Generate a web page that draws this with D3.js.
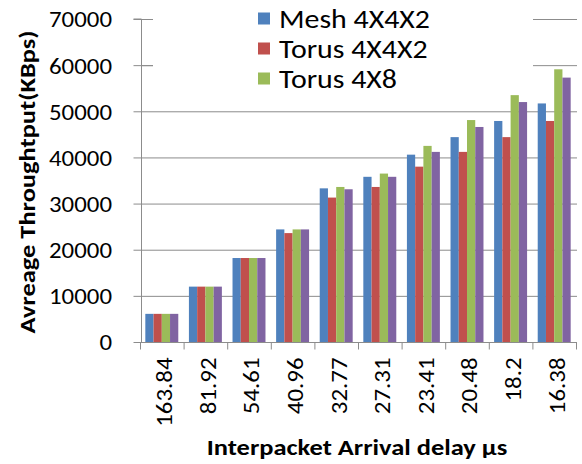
<!DOCTYPE html>
<html>
<head>
<meta charset="utf-8">
<script src="https://cdn.jsdelivr.net/npm/d3@7"></script>
<style>
  html, body { margin: 0; padding: 0; background: #fff; }
  svg { display: block; }
  text { font-family: Carlito, "Liberation Sans", Arial, sans-serif; fill: #000; }
</style>
</head>
<body>
<svg id="chart" width="582" height="464"></svg>
<script>
const categories = ["163.84", "81.92", "54.61", "40.96", "32.77", "27.31", "23.41", "20.48", "18.2", "16.38"];
const seriesNames = ["Mesh 4X4X2", "Torus 4X4X2", "Torus 4X8", "Series 4"];
const legendNames = ["Mesh 4X4X2", "Torus 4X4X2", "Torus 4X8"];
const colors = ["#4f81bd", "#c0504d", "#9bbb59", "#8064a2"];
const meshValues  = [6100, 12000, 18200, 24400, 33300, 35800, 40600, 44400, 47900, 51700];
const torus442Values = [6100, 12000, 18200, 23600, 31300, 33600, 38000, 41200, 44400, 47900];
const torus48Values  = [6100, 12000, 18200, 24400, 33600, 36500, 42500, 48100, 53500, 59100];
const series4Values  = [6100, 12000, 18200, 24400, 33100, 35800, 41200, 46600, 52000, 57300];
const yTicks = [0, 10000, 20000, 30000, 40000, 50000, 60000, 70000];
const yTitle = "Avreage Throughtput(KBps)";
const xTitle = "Interpacket Arrival delay \u03bcs";

const allSeries = [meshValues, torus442Values, torus48Values, series4Values];
const svg = d3.select("#chart");
const SX = 1.13; // horizontal glyph stretch to mimic the original font widths

const mLeft = 141, mRight = 576, mTop = 19, mBottom = 342;
const x0 = d3.scaleBand().domain(categories).range([mLeft - 1, mRight]).paddingInner(0);
const step = x0.step();
const x1 = d3.scaleBand().domain(d3.range(seriesNames.length)).range([step * 0.122, step * 0.878]);
const y = d3.scaleLinear().domain([0, 70000]).range([mBottom, mTop]);

// gridlines
svg.append("g").selectAll("line").data(yTicks.filter(d => d > 0)).join("line")
  .attr("x1", mLeft).attr("x2", mRight + 1)
  .attr("y1", d => y(d) + 0.5).attr("y2", d => y(d) + 0.5)
  .attr("stroke", "#8c8c8c").attr("stroke-width", 1);

// bars
const groups = svg.append("g").selectAll("g").data(categories).join("g")
  .attr("transform", d => `translate(${x0(d)},0)`);
groups.selectAll("rect").data((c, i) => allSeries.map((s, k) => ({k, v: s[i]}))).join("rect")
  .attr("x", d => x1(d.k))
  .attr("width", x1.bandwidth())
  .attr("y", d => y(d.v))
  .attr("height", d => y(0) - y(d.v))
  .attr("fill", d => colors[d.k]);

// legend background (covers gridlines)
const lg = svg.append("g");
lg.append("rect").attr("x", 153).attr("y", 0).attr("width", 380).attr("height", 92).attr("fill", "#fff");
legendNames.forEach((n, i) => {
  const cy = 18.5 + i * 30;
  lg.append("rect").attr("x", 258).attr("y", cy - 6).attr("width", 12).attr("height", 12).attr("fill", colors[i]);
  lg.append("text").attr("transform", `translate(279,${cy}) scale(1.15,1)`).attr("dy", "0.36em")
    .style("font-size", "26px").text(n);
});

// y axis
const yAxis = d3.axisLeft(y).tickValues(yTicks).tickSize(8).tickPadding(21).tickFormat(d3.format("d"));
const ga = svg.append("g").attr("transform", `translate(${mLeft + 0.5},0)`).call(yAxis);
ga.select(".domain").attr("stroke", "#8c8c8c").attr("d", `M-8,${y(70000)}H0V${y(0)}`);
ga.selectAll(".tick line").attr("stroke", "#8c8c8c");
ga.selectAll(".tick text").attr("x", 0).attr("transform", `translate(-29.5,0) scale(${SX},1)`)
  .attr("dy", "0.36em").style("font-size", "22px").attr("fill", "#000");
svg.append("line").attr("x1", mLeft).attr("x2", 153).attr("y1", y(70000) + 0.5).attr("y2", y(70000) + 0.5).attr("stroke", "#8c8c8c");
svg.append("line").attr("x1", mLeft).attr("x2", 153).attr("y1", y(60000) + 0.5).attr("y2", y(60000) + 0.5).attr("stroke", "#8c8c8c");

// x axis
const gx = svg.append("g").attr("transform", `translate(0,${mBottom + 0.5})`);
gx.append("line").attr("x1", mLeft).attr("x2", mRight + 1).attr("stroke", "#8c8c8c");
const bounds = categories.map(c => x0(c)).concat([mRight]);
gx.selectAll("line.t").data(bounds).join("line").attr("class", "t")
  .attr("x1", d => d + 0.5).attr("x2", d => d + 0.5).attr("y1", 0).attr("y2", 7)
  .attr("stroke", "#8c8c8c");
gx.selectAll("text").data(categories).join("text")
  .attr("transform", d => `translate(${x0(d) + step / 2 + 2.5},15) rotate(-90) scale(${SX},1)`)
  .attr("text-anchor", "end").attr("dy", "0.36em")
  .style("font-size", "22px").text(d => d);

// titles
svg.append("text").attr("transform", `translate(27,182) rotate(-90) scale(1.15,1)`)
  .attr("text-anchor", "middle").attr("dy", "0.35em")
  .style("font-size", "23px").style("font-weight", "bold").text(yTitle);
svg.append("text").attr("transform", `translate(357,455) scale(1.15,1)`)
  .attr("text-anchor", "middle")
  .style("font-size", "23px").style("font-weight", "bold").text(xTitle);
</script>
</body>
</html>
